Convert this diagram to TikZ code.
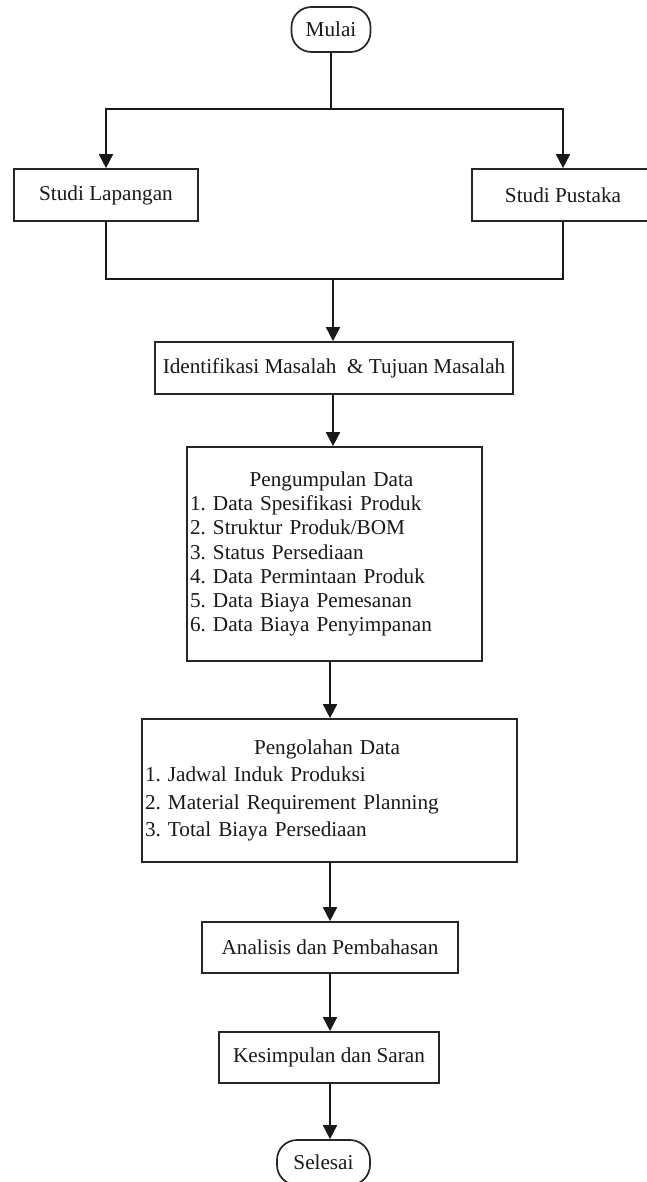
\documentclass[tikz,border=0pt]{standalone}
\usepackage{fontspec}
\setmainfont{Liberation Serif}
\usetikzlibrary{arrows.meta}
\begin{document}
\frenchspacing
\begin{tikzpicture}[x=1pt,y=-1pt,
  box/.style={draw=black!85, line width=1.7pt, fill=white, text=black!90, inner sep=0pt,
    font=\fontsize{21.2}{24.2}\selectfont},
  term/.style={box, rounded corners=20pt},
  conn/.style={line width=1.7pt, draw=black!90},
  arr/.style={conn, -{Triangle[width=14pt,length=14pt]}}]
\useasboundingbox (0,0) rectangle (646,1182);

\node[term, minimum width=79pt, minimum height=45pt] (mulai) at (331,29.5) {Mulai};
\node[box, minimum width=184pt, minimum height=52pt] (lap) at (106,195) {\raisebox{-2pt}{Studi Lapangan}};
\node[box, minimum width=182pt, minimum height=52pt] (pus) at (563,195) {\raisebox{-2pt}{Studi Pustaka}};
\node[box, minimum width=358pt, minimum height=52pt] (ident) at (334,368) {Identifikasi Masalah \ \& Tujuan Masalah};
\node[box, minimum width=295pt, minimum height=214pt, text width=289pt, align=left] (kumpul) at (334.5,554)
  {\makebox[289pt][c]{\hspace{-6pt}Pengumpulan Data}\\
   1. Data Spesifikasi Produk\\
   2. Struktur Produk/BOM\\
   3. Status Persediaan\\
   4. Data Permintaan Produk\\
   5. Data Biaya Pemesanan\\
   6. Data Biaya Penyimpanan};
\node[box, font=\fontsize{21.2}{27.3}\selectfont, minimum width=375pt, minimum height=143pt, text width=369pt, align=left] (olah) at (329.5,790.5)
  {\makebox[369pt][c]{\hspace{-5pt}Pengolahan Data}\\
   1. Jadwal Induk Produksi\\
   2. Material Requirement Planning\\
   3. Total Biaya Persediaan};
\node[box, minimum width=256pt, minimum height=51pt] (anal) at (330,947.5) {Analisis dan Pembahasan};
\node[box, minimum width=220pt, minimum height=51pt] (kes) at (329,1057.5) {Kesimpulan dan Saran};
\node[term, minimum width=93pt, minimum height=45pt] (sel) at (323.5,1162.5) {Selesai};

\coordinate (split) at (331,109);
\coordinate (join) at (333,279);
\coordinate (col) at (330,0);

\draw[conn] (mulai.south) -- (split);
\draw[arr] (split) -| (lap.north);
\draw[arr] (split) -| (pus.north);
\draw[conn] (lap.south) -- (lap.south |- join) -- (pus.south |- join) -- (pus.south);
\draw[arr] (join) -- (join |- ident.north);
\draw[arr] (join |- ident.south) -- (join |- kumpul.north);
\draw[arr] (col |- kumpul.south) -- (col |- olah.north);
\draw[arr] (col |- olah.south) -- (col |- anal.north);
\draw[arr] (col |- anal.south) -- (col |- kes.north);
\draw[arr] (col |- kes.south) -- (col |- sel.north);
\end{tikzpicture}
\end{document}
